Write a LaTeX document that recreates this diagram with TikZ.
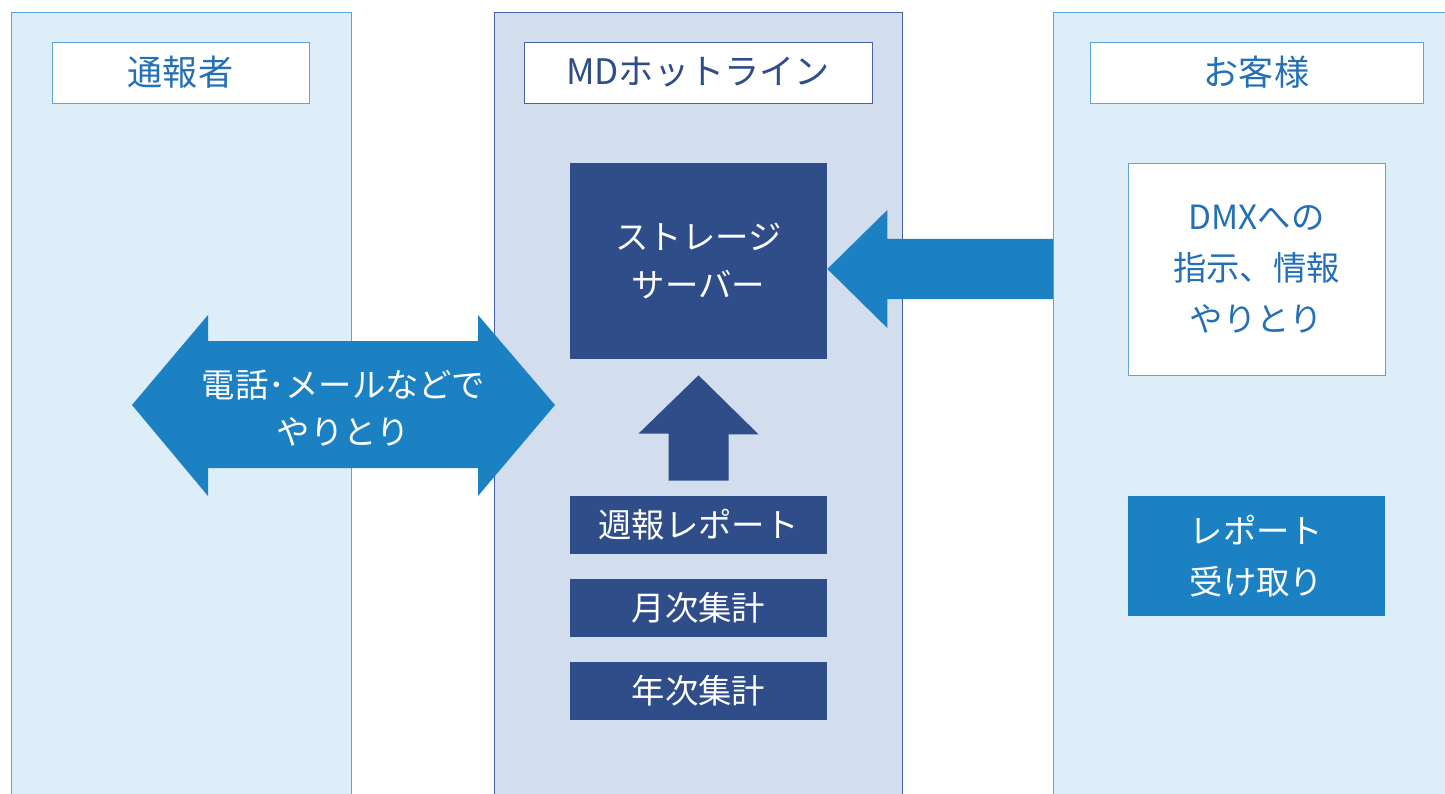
\documentclass[tikz,border=0pt]{standalone}
\usepackage{fontspec}
\setmainfont{Noto Sans CJK JP}
\usetikzlibrary{positioning,calc}

\definecolor{lanefill}{RGB}{221,238,249}
\definecolor{laneline}{RGB}{91,163,217}
\definecolor{hotfill}{RGB}{210,221,238}
\definecolor{hotline}{RGB}{70,98,160}
\definecolor{navy}{RGB}{47,77,137}
\definecolor{arrowblue}{RGB}{27,129,195}
\definecolor{textblue}{RGB}{36,112,182}

\tikzset{
  headbox/.style={draw=#1, fill=white, minimum height=1.22cm, font=\fontsize{20}{24}\selectfont},
  navybox/.style={fill=navy, text=white, minimum width=5.14cm, align=center,
                  font=\fontsize{19}{27}\selectfont},
  custbox/.style={minimum width=5.14cm, align=center, font=\fontsize{19}{29}\selectfont}
}

\begin{document}
\begin{tikzpicture}[x=0.02cm,y=-0.02cm]
\useasboundingbox (0,0) rectangle (1445,794);

% Lanes
\fill[lanefill] (11,12) rectangle (351,794);
\draw[laneline] (11,794) |- (351,12) -- (351,794);
\fill[hotfill] (494,12) rectangle (902,794);
\draw[hotline] (494,794) |- (902,12) -- (902,794);
\fill[lanefill] (1053,12) rectangle (1445,794);
\draw[laneline] (1053,794) |- (1445,12);

% Headers
\node[headbox=laneline, text=textblue, minimum width=5.14cm] (caller) at (180.5,72.5) {通報者};
\node[headbox=hotline, text=navy, minimum width=6.96cm] (hotline) at (698,72.5) {MDホットライン};
\node[headbox=laneline, text=textblue, minimum width=6.66cm] (client) at (1256.5,72.5) {お客様};

% Hotline column
\node[navybox, minimum height=3.92cm] (server) at (698.5,261) {ストレージ\\サーバー};
\node[navybox, minimum height=1.16cm] (weekly) at (698.5,525) {週報レポート};
\node[navybox, minimum height=1.16cm] (monthly) at (698.5,608) {月次集計};
\node[navybox, minimum height=1.16cm] (yearly) at (698.5,691) {年次集計};

% Client column
\node[custbox, draw=laneline, fill=white, text=textblue, minimum height=4.24cm] (order) at (1256.5,269) {DMXへの\\指示、情報\\やりとり};
\node[custbox, fill=arrowblue, text=white, minimum height=2.4cm] (receive) at (1256.5,556) {レポート\\受け取り};

% Reports up to server
\coordinate (upTip) at ($(server.south)+(0,16)$);
\coordinate (upFoot) at ($(weekly.north)+(0,-15)$);
\fill[navy] (upTip) -- ++(60,59) -- ++(-30,0) -- ($(upFoot)+(30,0)$)
  -- ($(upFoot)+(-30,0)$) -- ++(0,-47) -- ++(-30,0) -- cycle;

% Client to server
\coordinate (lTip) at ($(server.east)+(0,8)$);
\coordinate (custEdge) at (1053,269);
\fill[arrowblue] (lTip) -- ++(60,-59) |- ($(custEdge)+(0,-30)$)
  -- ($(custEdge)+(0,30)$) -| ($(lTip)+(60,59)$) -- cycle;

% Caller <-> hotline
\coordinate (phoneL) at (132,405);
\coordinate (phoneR) at (555,405);
\fill[arrowblue] (phoneL) -- ++(76,-90) -- ++(0,26) -- ($(phoneR)+(-77,-64)$)
  -- ++(0,-26) -- (phoneR) -- ++(-77,91) -- ++(0,-28) -- ($(phoneL)+(76,63)$)
  -- ++(0,28) -- cycle;
\node[text=white, align=center, font=\fontsize{19}{27}\selectfont] (phone)
  at ($(phoneL)!0.5!(phoneR)+(0,3)$) {電話･メールなどで\\やりとり};

\end{tikzpicture}
\end{document}
